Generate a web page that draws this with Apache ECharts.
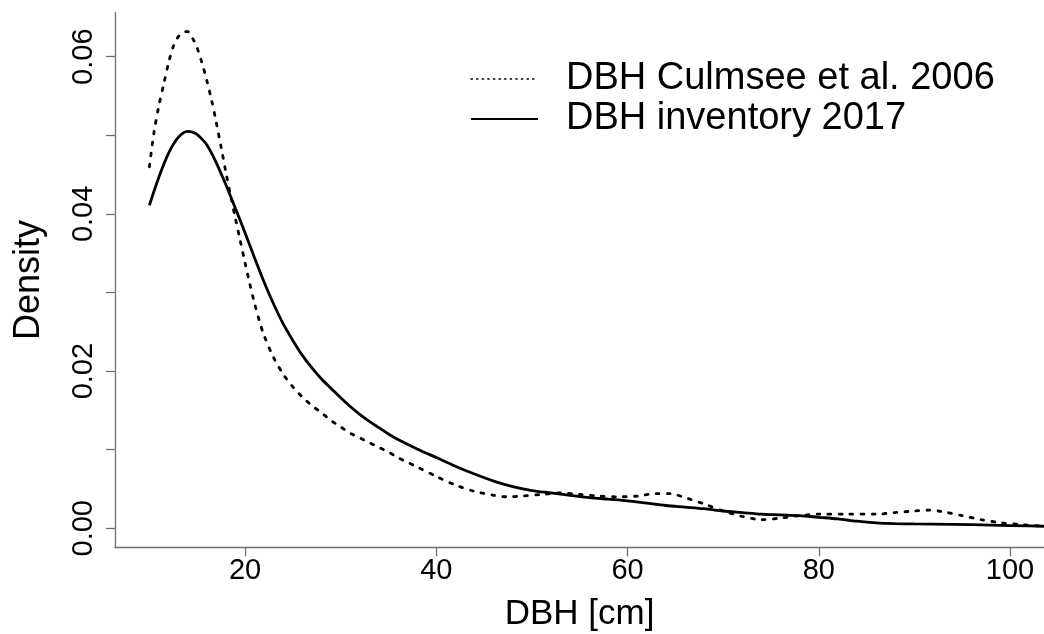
<!DOCTYPE html>
<html>
<head>
<meta charset="utf-8">
<script src="https://cdn.jsdelivr.net/npm/echarts@6/dist/echarts.min.js"></script>
<style>
html,body{margin:0;padding:0;background:#fff;}
#chart{width:1044px;height:634px;}
</style>
</head>
<body>
<div id="chart"></div>
<script>
// ---- data ----
const seriesNames = ['DBH Culmsee et al. 2006', 'DBH inventory 2017'];

const culmseeX = [10, 10.5, 11, 11.5, 12, 12.5, 13, 13.5, 14, 14.5, 15, 15.5, 16, 16.5, 17, 17.5, 18, 18.5, 19, 19.5, 20, 20.5, 21, 21.5, 22, 23, 24, 25, 26, 27, 28, 29, 30, 31, 32, 33, 34, 35, 36, 37, 38, 40, 42, 44, 46, 47.5, 49, 51, 53, 55, 57, 59, 61, 63, 64.5, 66, 68, 70, 72, 74, 76, 78, 80, 83, 86, 88, 90, 91.5, 93, 95, 97, 99, 101, 103, 106];
const culmseeY = [0.0460, 0.0505, 0.0538, 0.0565, 0.0592, 0.0613, 0.0625, 0.0631, 0.0632, 0.0624, 0.0611, 0.0592, 0.0570, 0.0545, 0.0516, 0.0485, 0.0453, 0.0423, 0.0394, 0.0366, 0.0338, 0.0311, 0.0286, 0.0264, 0.0245, 0.0217, 0.0196, 0.0180, 0.0167, 0.0156, 0.0147, 0.0137, 0.0129, 0.0121, 0.0115, 0.0109, 0.0103, 0.0097, 0.0090, 0.0084, 0.0078, 0.0066, 0.0055, 0.0047, 0.0042, 0.0040, 0.0041, 0.0043, 0.0045, 0.0043, 0.0041, 0.0040, 0.0041, 0.0044, 0.0044, 0.0039, 0.0031, 0.0022, 0.0015, 0.0011, 0.0013, 0.0016, 0.0018, 0.0018, 0.0018, 0.0020, 0.0022, 0.0023, 0.0021, 0.0016, 0.0011, 0.0007, 0.0005, 0.0003, 0.0002];

const inventoryX = [10, 11, 12, 13, 14, 14.5, 15, 16, 17, 18, 19, 20, 21, 22, 23, 24, 25, 26, 27, 28, 29, 30, 31, 32, 33, 34, 35, 36, 38, 40, 42, 44, 46, 48, 50, 52, 54, 56, 58, 60, 62, 64, 66, 68, 70, 72, 74, 76, 78, 80, 82, 84, 86, 88, 90, 94, 98, 102, 106];
const inventoryY = [0.0411, 0.0447, 0.0477, 0.0497, 0.0505, 0.0504, 0.0501, 0.0488, 0.0465, 0.0437, 0.0407, 0.0376, 0.0344, 0.0313, 0.0285, 0.0260, 0.0239, 0.0220, 0.0204, 0.0190, 0.0178, 0.0166, 0.0155, 0.0145, 0.0136, 0.0128, 0.0120, 0.0113, 0.0101, 0.0090, 0.0079, 0.0069, 0.0060, 0.0053, 0.0048, 0.0045, 0.0042, 0.0039, 0.0037, 0.0035, 0.0032, 0.0029, 0.0027, 0.0025, 0.0022, 0.0020, 0.0018, 0.0017, 0.0016, 0.0014, 0.0012, 0.0009, 0.0007, 0.0006, 0.00055, 0.0005, 0.0004, 0.0003, 0.0002];

const xTickValues = [20, 40, 60, 80, 100];
const yTickValues = [0, 0.01, 0.02, 0.03, 0.04, 0.05, 0.06];
const yLabelValues = [0, 0.02, 0.04, 0.06];

const xAxisTitle = 'DBH [cm]';
const yAxisTitle = 'Density';

// ---- chart ----
const FONT = '"Liberation Sans", Arial, Helvetica, sans-serif';
const pairs = (xs, ys) => xs.map((x, i) => [x, ys[i]]);
const hiddenSymbol = {color: 'transparent', borderColor: 'transparent', borderWidth: 0, opacity: 0};

const chart = echarts.init(document.getElementById('chart'), null, {renderer: 'canvas'});
chart.setOption({
  animation: false,
  backgroundColor: '#ffffff',
  textStyle: {fontFamily: FONT},
  grid: {left: 115, right: 0, top: 12.7, bottom: 86.7, containLabel: false, outerBoundsMode: 'none'},
  legend: {
    orient: 'vertical',
    left: 470,
    top: 59,
    padding: 0,
    itemWidth: 67,
    itemHeight: 14,
    itemGap: 0,
    textStyle: {fontFamily: FONT, fontSize: 38, color: '#000', lineHeight: 40, padding: [0, 0, 0, 23]},
    data: [
      {name: seriesNames[0], itemStyle: hiddenSymbol, lineStyle: {width: 1.4, type: [1.4, 4.2], cap: 'round', color: '#000'}},
      {name: seriesNames[1], itemStyle: hiddenSymbol, lineStyle: {width: 2, type: 'solid', color: '#000'}}
    ]
  },
  xAxis: {
    type: 'value',
    min: 6.405,
    max: 103.55,
    name: xAxisTitle,
    nameLocation: 'middle',
    nameGap: 50,
    nameTextStyle: {fontFamily: FONT, fontSize: 35, color: '#000'},
    splitLine: {show: false},
    axisLine: {show: true, onZero: false, lineStyle: {color: '#707070', width: 1.3}},
    axisTick: {show: true, length: 9, customValues: xTickValues, lineStyle: {color: '#707070', width: 1.3}},
    axisLabel: {show: true, margin: 9, fontSize: 29, color: '#000', fontFamily: FONT, customValues: xTickValues}
  },
  yAxis: {
    type: 'value',
    min: -0.00242,
    max: 0.0656,
    name: yAxisTitle,
    nameLocation: 'middle',
    nameRotate: 90,
    nameGap: 68,
    nameTextStyle: {fontFamily: FONT, fontSize: 36, color: '#000'},
    splitLine: {show: false},
    axisLine: {show: true, onZero: false, lineStyle: {color: '#707070', width: 1.3}},
    axisTick: {show: true, length: 9, customValues: yTickValues, lineStyle: {color: '#707070', width: 1.3}},
    axisLabel: {show: true, rotate: 90, margin: 17, fontSize: 29, color: '#000', fontFamily: FONT,
      customValues: yLabelValues, formatter: v => Number(v).toFixed(2)}
  },
  series: [
    {
      name: seriesNames[0],
      type: 'line',
      data: pairs(culmseeX, culmseeY),
      smooth: 0.3,
      symbol: 'none',
      showSymbol: false,
      clip: true,
      lineStyle: {color: '#000', width: 2.8, type: [2.8, 8.2], cap: 'round'},
      itemStyle: {color: '#000'},
      z: 3
    },
    {
      name: seriesNames[1],
      type: 'line',
      data: pairs(inventoryX, inventoryY),
      smooth: 0.3,
      symbol: 'none',
      showSymbol: false,
      clip: true,
      lineStyle: {color: '#000', width: 2.8, type: 'solid'},
      itemStyle: {color: '#000'},
      z: 2
    }
  ]
});
</script>
</body>
</html>
